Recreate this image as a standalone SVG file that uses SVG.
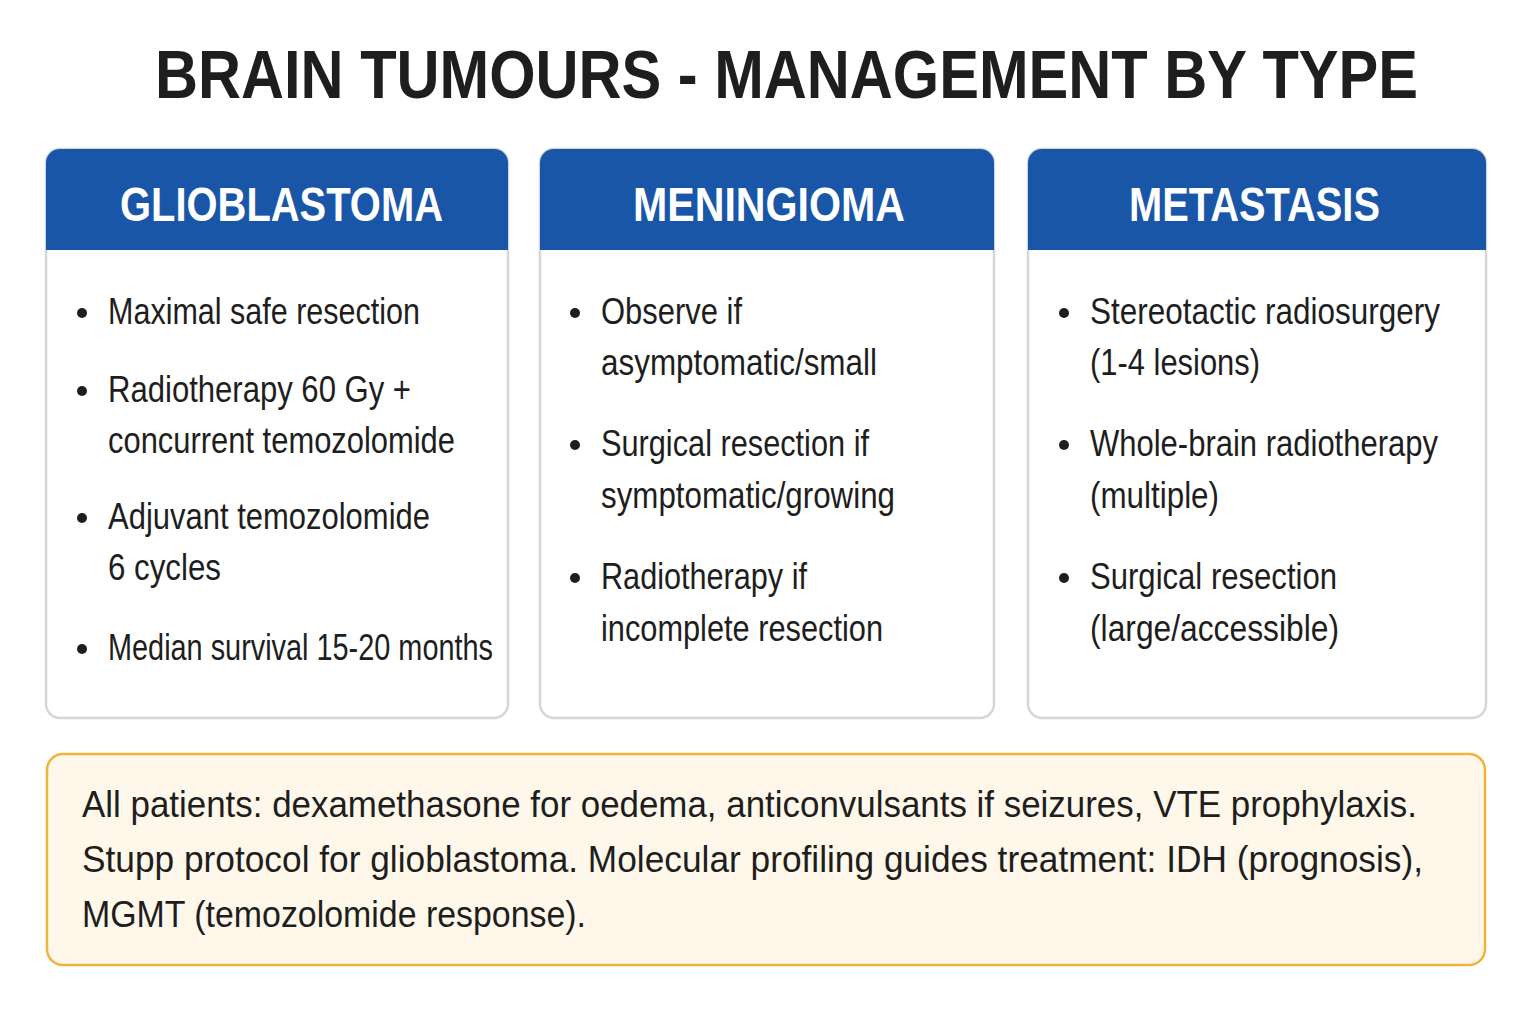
<svg xmlns="http://www.w3.org/2000/svg" width="1536" height="1024" viewBox="0 0 1536 1024">
<style>
text{font-family:"Liberation Sans",sans-serif;}
.title{font-size:68px;font-weight:bold;fill:#1e1e1e;}
.card{fill:#fff;stroke:#d3d6dc;stroke-width:2.5;}
.hdr{fill:#1a56a8;}
.htx{font-size:48px;font-weight:bold;fill:#fff;}
.b{font-size:37px;fill:#1e1e1e;}
.dot{fill:#1e1e1e;}
.note{font-size:37px;fill:#1e1e1e;}
</style>
<rect width="1536" height="1024" fill="#fff"/>
<text class="title" x="155" y="98" textLength="1263" lengthAdjust="spacingAndGlyphs">BRAIN TUMOURS - MANAGEMENT BY TYPE</text>
<g id="glioblastoma">
<rect class="card" x="46" y="149" width="462" height="569" rx="14"/>
<path class="hdr" d="M46 250V163a14 14 0 0 1 14-14h434a14 14 0 0 1 14 14v87z"/>
<text class="htx" x="120" y="221" textLength="323" lengthAdjust="spacingAndGlyphs">GLIOBLASTOMA</text>
<circle class="dot" cx="82" cy="313" r="5"/><text class="b" x="108" y="324" textLength="312" lengthAdjust="spacingAndGlyphs">Maximal safe resection</text>
<circle class="dot" cx="82" cy="391" r="5"/><text class="b" x="108" y="402" textLength="303" lengthAdjust="spacingAndGlyphs">Radiotherapy 60 Gy +</text><text class="b" x="108" y="453" textLength="347" lengthAdjust="spacingAndGlyphs">concurrent temozolomide</text>
<circle class="dot" cx="82" cy="518" r="5"/><text class="b" x="108" y="529" textLength="322" lengthAdjust="spacingAndGlyphs">Adjuvant temozolomide</text><text class="b" x="108" y="580" textLength="113" lengthAdjust="spacingAndGlyphs">6 cycles</text>
<circle class="dot" cx="82" cy="649" r="5"/><text class="b" x="108" y="660" textLength="385" lengthAdjust="spacingAndGlyphs">Median survival 15-20 months</text>
</g>
<g id="meningioma">
<rect class="card" x="540" y="149" width="454" height="569" rx="14"/>
<path class="hdr" d="M540 250V163a14 14 0 0 1 14-14h426a14 14 0 0 1 14 14v87z"/>
<text class="htx" x="633" y="221" textLength="272" lengthAdjust="spacingAndGlyphs">MENINGIOMA</text>
<circle class="dot" cx="575" cy="313" r="5"/><text class="b" x="601" y="324" textLength="141" lengthAdjust="spacingAndGlyphs">Observe if</text><text class="b" x="601" y="375" textLength="276" lengthAdjust="spacingAndGlyphs">asymptomatic/small</text>
<circle class="dot" cx="575" cy="445" r="5"/><text class="b" x="601" y="456" textLength="268" lengthAdjust="spacingAndGlyphs">Surgical resection if</text><text class="b" x="601" y="508" textLength="294" lengthAdjust="spacingAndGlyphs">symptomatic/growing</text>
<circle class="dot" cx="575" cy="578" r="5"/><text class="b" x="601" y="589" textLength="206" lengthAdjust="spacingAndGlyphs">Radiotherapy if</text><text class="b" x="601" y="641" textLength="282" lengthAdjust="spacingAndGlyphs">incomplete resection</text>
</g>
<g id="metastasis">
<rect class="card" x="1028" y="149" width="458" height="569" rx="14"/>
<path class="hdr" d="M1028 250V163a14 14 0 0 1 14-14h430a14 14 0 0 1 14 14v87z"/>
<text class="htx" x="1129" y="221" textLength="251" lengthAdjust="spacingAndGlyphs">METASTASIS</text>
<circle class="dot" cx="1064" cy="313" r="5"/><text class="b" x="1090" y="324" textLength="350" lengthAdjust="spacingAndGlyphs">Stereotactic radiosurgery</text><text class="b" x="1090" y="375" textLength="170" lengthAdjust="spacingAndGlyphs">(1-4 lesions)</text>
<circle class="dot" cx="1064" cy="445" r="5"/><text class="b" x="1090" y="456" textLength="348" lengthAdjust="spacingAndGlyphs">Whole-brain radiotherapy</text><text class="b" x="1090" y="508" textLength="129" lengthAdjust="spacingAndGlyphs">(multiple)</text>
<circle class="dot" cx="1064" cy="578" r="5"/><text class="b" x="1090" y="589" textLength="247" lengthAdjust="spacingAndGlyphs">Surgical resection</text><text class="b" x="1090" y="641" textLength="249" lengthAdjust="spacingAndGlyphs">(large/accessible)</text>
</g>
<g id="note">
<rect x="47" y="754" width="1438" height="211" rx="16" fill="#fff8ea" stroke="#f0b43c" stroke-width="2.5"/>
<text class="note" x="82" y="817" textLength="1335" lengthAdjust="spacingAndGlyphs">All patients: dexamethasone for oedema, anticonvulsants if seizures, VTE prophylaxis.</text>
<text class="note" x="82" y="872" textLength="1341" lengthAdjust="spacingAndGlyphs">Stupp protocol for glioblastoma. Molecular profiling guides treatment: IDH (prognosis),</text>
<text class="note" x="82" y="927" textLength="504" lengthAdjust="spacingAndGlyphs">MGMT (temozolomide response).</text>
</g>
<g id="connectors"/>
</svg>
